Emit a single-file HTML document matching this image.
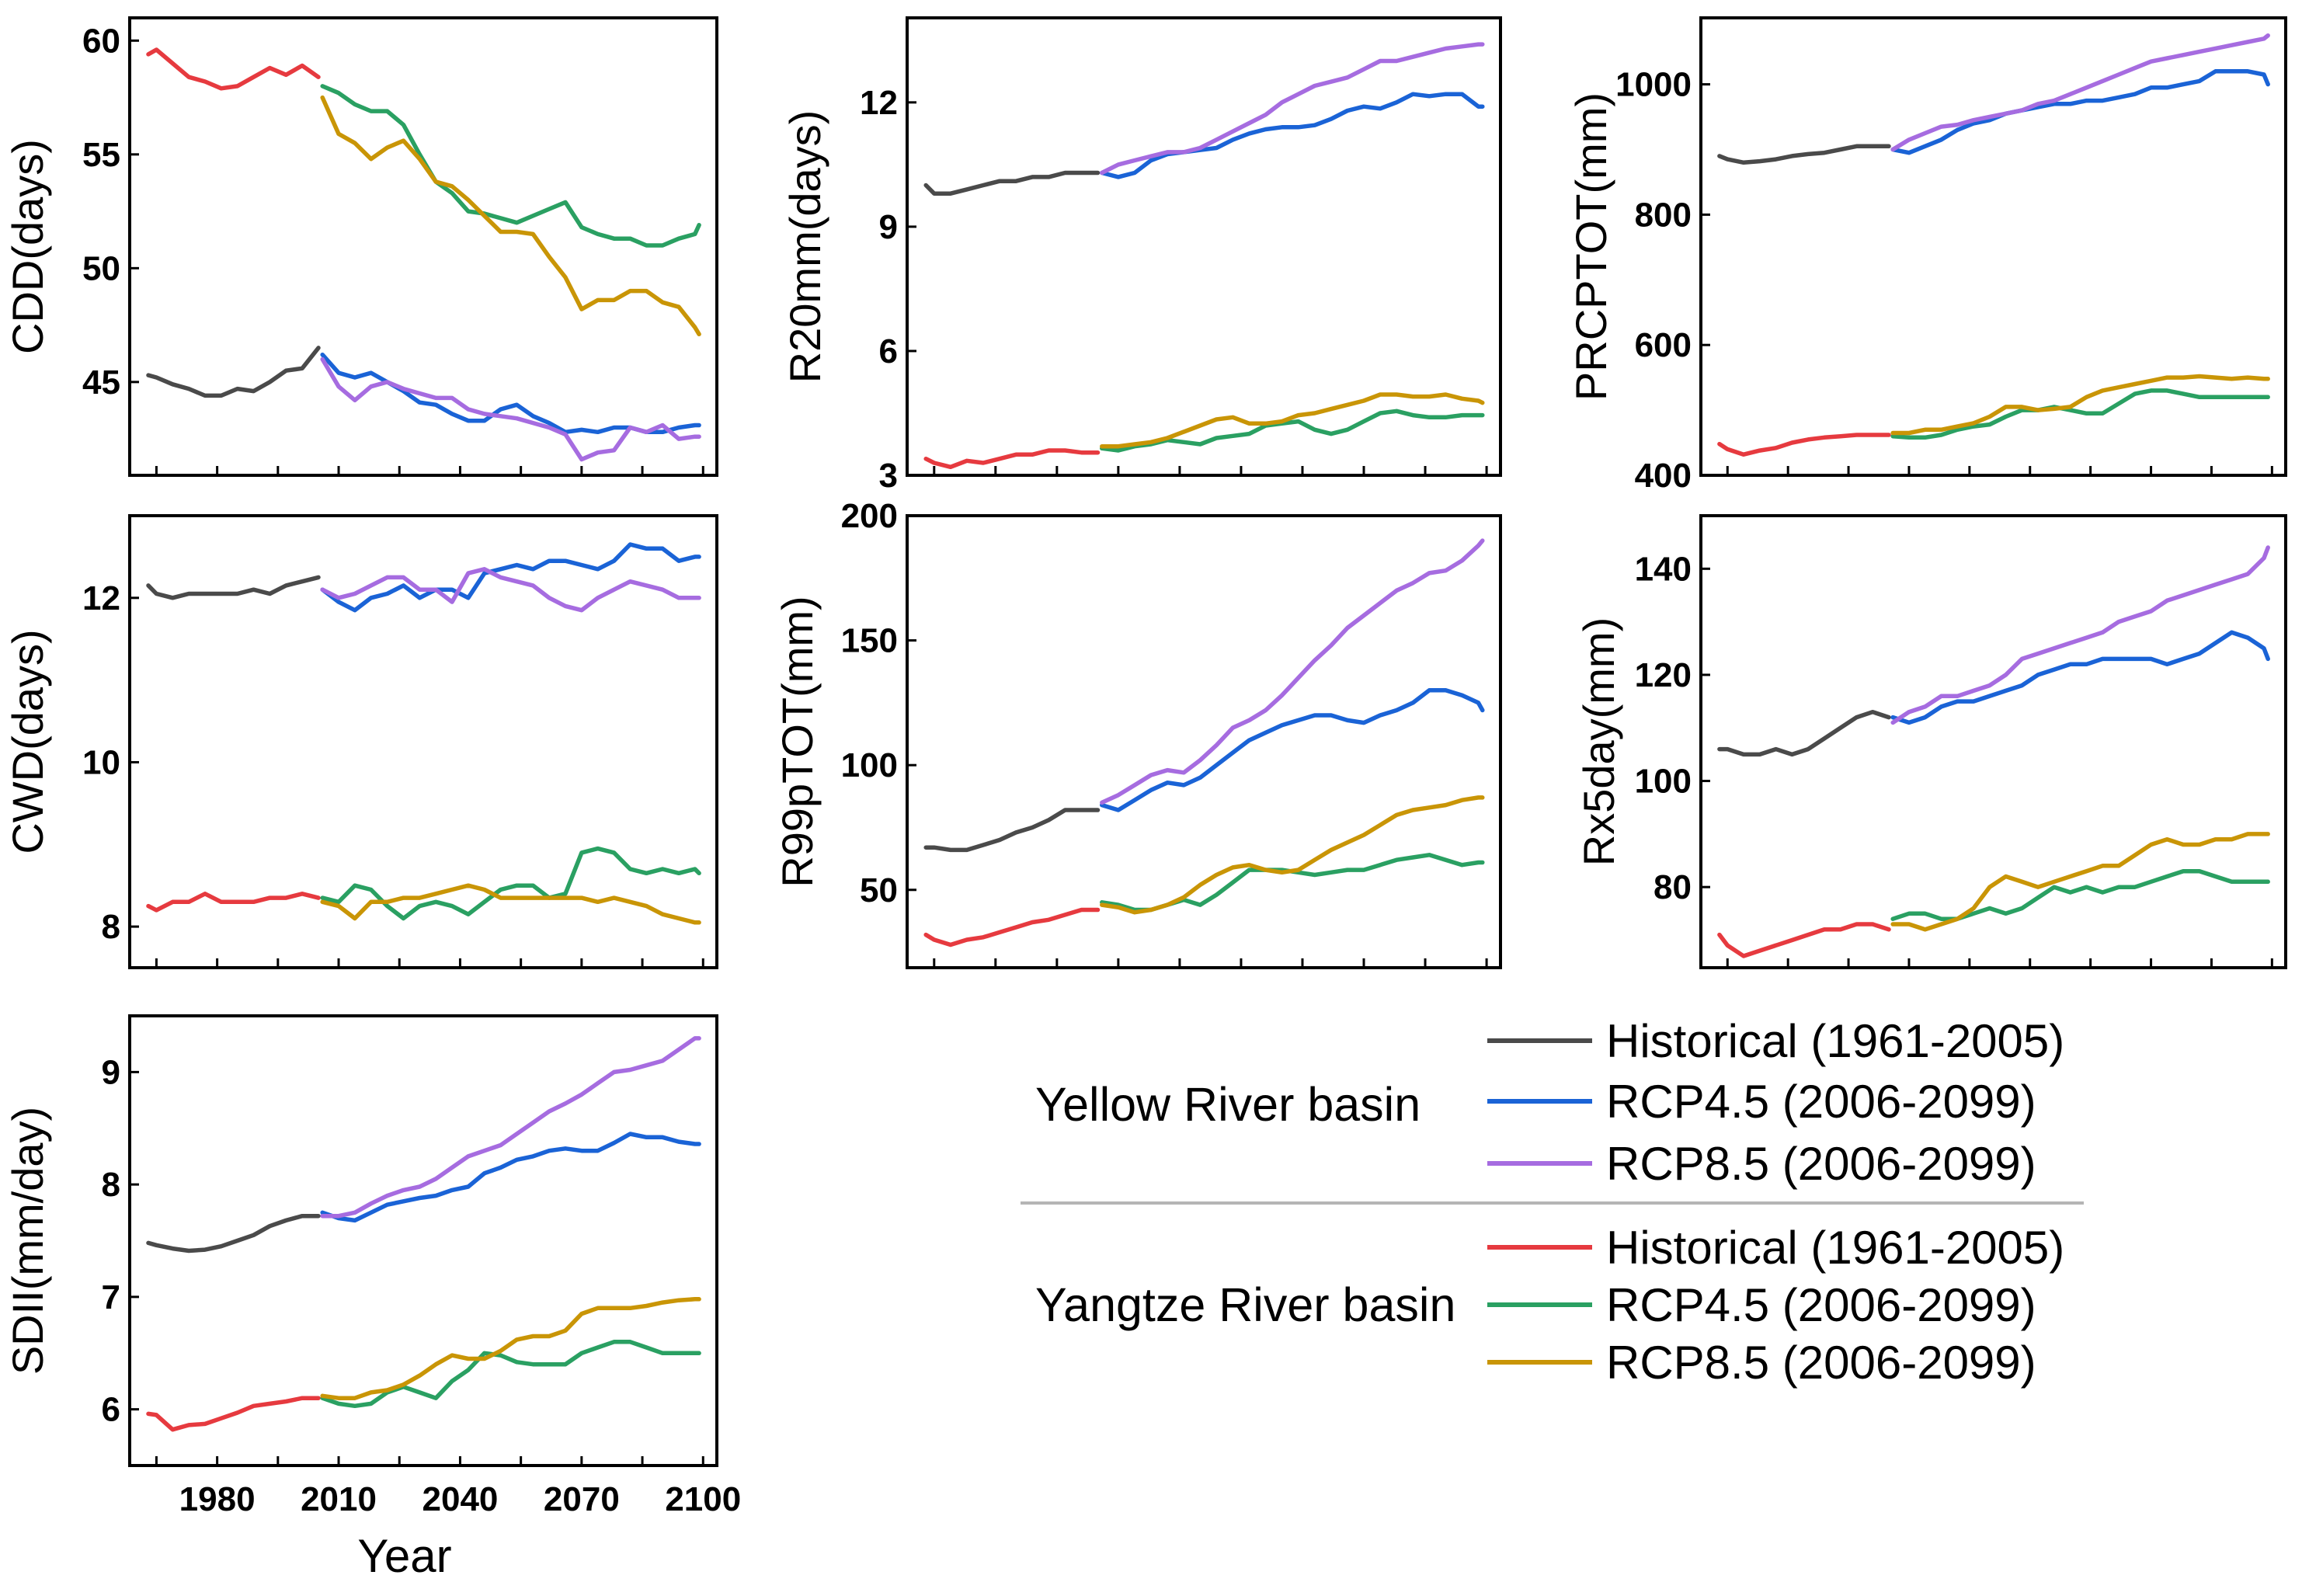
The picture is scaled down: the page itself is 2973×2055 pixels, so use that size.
<!DOCTYPE html>
<html><head><meta charset="utf-8"><style>
html,body{margin:0;padding:0;background:#fff;}
svg{display:block;font-family:"Liberation Sans",Arial,sans-serif;}
</style></head><body>
<svg id="fig" width="2973" height="2055" viewBox="0 0 2973 2055"></svg>
<script>
const histYears=[1963,1965,1969,1973,1977,1981,1985,1989,1993,1997,2001,2005];
const futYears=[2006,2010,2014,2018,2022,2026,2030,2034,2038,2042,2046,2050,2054,2058,2062,2066,2070,2074,2078,2082,2086,2090,2094,2098,2099];
const xTicks=[1965,1980,1995,2010,2025,2040,2055,2070,2085,2100];
const xTickLabels=[1980,2010,2040,2070,2100];

// CDD
const cddYH=[45.3,45.2,44.9,44.7,44.4,44.4,44.7,44.6,45.0,45.5,45.6,46.5];
const cddZH=[59.4,59.6,59.0,58.4,58.2,57.9,58.0,58.4,58.8,58.5,58.9,58.4];
const cddY45=[46.2,45.4,45.2,45.4,45.0,44.6,44.1,44.0,43.6,43.3,43.3,43.8,44.0,43.5,43.2,42.8,42.9,42.8,43.0,43.0,42.8,42.8,43.0,43.1,43.1];
const cddY85=[46.0,44.8,44.2,44.8,45.0,44.7,44.5,44.3,44.3,43.8,43.6,43.5,43.4,43.2,43.0,42.7,41.6,41.9,42.0,43.0,42.8,43.1,42.5,42.6,42.6];
const cddZ45=[58.0,57.7,57.2,56.9,56.9,56.3,55.0,53.8,53.3,52.5,52.4,52.2,52.0,52.3,52.6,52.9,51.8,51.5,51.3,51.3,51.0,51.0,51.3,51.5,51.9];
const cddZ85=[57.5,55.9,55.5,54.8,55.3,55.6,54.8,53.8,53.6,53.0,52.3,51.6,51.6,51.5,50.5,49.6,48.2,48.6,48.6,49.0,49.0,48.5,48.3,47.4,47.1];
const cddTicks=[45,50,55,60];
// CWD
const cwdYH=[12.15,12.05,12.0,12.05,12.05,12.05,12.05,12.1,12.05,12.15,12.2,12.25];
const cwdZH=[8.25,8.2,8.3,8.3,8.4,8.3,8.3,8.3,8.35,8.35,8.4,8.35];
const cwdY45=[12.1,11.95,11.85,12.0,12.05,12.15,12.0,12.1,12.1,12.0,12.3,12.35,12.4,12.35,12.45,12.45,12.4,12.35,12.45,12.65,12.6,12.6,12.45,12.5,12.5];
const cwdY85=[12.1,12.0,12.05,12.15,12.25,12.25,12.1,12.1,11.95,12.3,12.35,12.25,12.2,12.15,12.0,11.9,11.85,12.0,12.1,12.2,12.15,12.1,12.0,12.0,12.0];
const cwdZ45=[8.35,8.3,8.5,8.45,8.25,8.1,8.25,8.3,8.25,8.15,8.3,8.45,8.5,8.5,8.35,8.4,8.9,8.95,8.9,8.7,8.65,8.7,8.65,8.7,8.65];
const cwdZ85=[8.3,8.25,8.1,8.3,8.3,8.35,8.35,8.4,8.45,8.5,8.45,8.35,8.35,8.35,8.35,8.35,8.35,8.3,8.35,8.3,8.25,8.15,8.1,8.05,8.05];
const cwdTicks=[8,10,12];
// SDII
const sdiiYH=[7.48,7.46,7.43,7.41,7.42,7.45,7.5,7.55,7.63,7.68,7.72,7.72];
const sdiiZH=[5.96,5.95,5.82,5.86,5.87,5.92,5.97,6.03,6.05,6.07,6.1,6.1];
const sdiiY45=[7.75,7.7,7.68,7.75,7.82,7.85,7.88,7.9,7.95,7.98,8.1,8.15,8.22,8.25,8.3,8.32,8.3,8.3,8.37,8.45,8.42,8.42,8.38,8.36,8.36];
const sdiiY85=[7.72,7.72,7.75,7.83,7.9,7.95,7.98,8.05,8.15,8.25,8.3,8.35,8.45,8.55,8.65,8.72,8.8,8.9,9.0,9.02,9.06,9.1,9.2,9.3,9.3];
const sdiiZ45=[6.1,6.05,6.03,6.05,6.15,6.2,6.15,6.1,6.25,6.35,6.5,6.48,6.42,6.4,6.4,6.4,6.5,6.55,6.6,6.6,6.55,6.5,6.5,6.5,6.5];
const sdiiZ85=[6.12,6.1,6.1,6.15,6.17,6.22,6.3,6.4,6.48,6.45,6.45,6.52,6.62,6.65,6.65,6.7,6.85,6.9,6.9,6.9,6.92,6.95,6.97,6.98,6.98];
const sdiiTicks=[6,7,8,9];
// R20mm
const r20YH=[10.0,9.8,9.8,9.9,10.0,10.1,10.1,10.2,10.2,10.3,10.3,10.3];
const r20ZH=[3.4,3.3,3.2,3.35,3.3,3.4,3.5,3.5,3.6,3.6,3.55,3.55];
const r20Y45=[10.3,10.2,10.3,10.6,10.75,10.8,10.85,10.9,11.1,11.25,11.35,11.4,11.4,11.45,11.6,11.8,11.9,11.85,12.0,12.2,12.15,12.2,12.2,11.9,11.9];
const r20Y85=[10.3,10.5,10.6,10.7,10.8,10.8,10.9,11.1,11.3,11.5,11.7,12.0,12.2,12.4,12.5,12.6,12.8,13.0,13.0,13.1,13.2,13.3,13.35,13.4,13.4];
const r20Z45=[3.65,3.6,3.7,3.75,3.85,3.8,3.75,3.9,3.95,4.0,4.2,4.25,4.3,4.1,4.0,4.1,4.3,4.5,4.55,4.45,4.4,4.4,4.45,4.45,4.45];
const r20Z85=[3.7,3.7,3.75,3.8,3.9,4.05,4.2,4.35,4.4,4.25,4.25,4.3,4.45,4.5,4.6,4.7,4.8,4.95,4.95,4.9,4.9,4.95,4.85,4.8,4.75];
const r20Ticks=[3,6,9,12];
// PRCPTOT
const prYH=[890,885,880,882,885,890,893,895,900,905,905,905];
const prZH=[448,440,432,438,442,450,455,458,460,462,462,462];
const prY45=[900,895,905,915,930,940,945,955,960,965,970,970,975,975,980,985,995,995,1000,1005,1020,1020,1020,1015,1000];
const prY85=[900,915,925,935,938,945,950,955,960,970,975,985,995,1005,1015,1025,1035,1040,1045,1050,1055,1060,1065,1070,1075];
const prZ45=[460,458,458,462,470,475,478,490,500,500,505,500,495,495,510,525,530,530,525,520,520,520,520,520,520];
const prZ85=[465,465,470,470,475,480,490,505,505,500,502,505,520,530,535,540,545,550,550,552,550,548,550,548,548];
const prTicks=[400,600,800,1000];
// R99pTOT
const r99YH=[67,67,66,66,68,70,73,75,78,82,82,82];
const r99ZH=[32,30,28,30,31,33,35,37,38,40,42,42];
const r99Y45=[84,82,86,90,93,92,95,100,105,110,113,116,118,120,120,118,117,120,122,125,130,130,128,125,122];
const r99Y85=[85,88,92,96,98,97,102,108,115,118,122,128,135,142,148,155,160,165,170,173,177,178,182,188,190];
const r99Z45=[45,44,42,42,44,46,44,48,53,58,58,58,57,56,57,58,58,60,62,63,64,62,60,61,61];
const r99Z85=[44,43,41,42,44,47,52,56,59,60,58,57,58,62,66,69,72,76,80,82,83,84,86,87,87];
const r99Ticks=[50,100,150,200];
// Rx5day
const rx5YH=[106,106,105,105,106,105,106,108,110,112,113,112];
const rx5ZH=[71,69,67,68,69,70,71,72,72,73,73,72];
const rx5Y45=[112,111,112,114,115,115,116,117,118,120,121,122,122,123,123,123,123,122,123,124,126,128,127,125,123];
const rx5Y85=[111,113,114,116,116,117,118,120,123,124,125,126,127,128,130,131,132,134,135,136,137,138,139,142,144];
const rx5Z45=[74,75,75,74,74,75,76,75,76,78,80,79,80,79,80,80,81,82,83,83,82,81,81,81,81];
const rx5Z85=[73,73,72,73,74,76,80,82,81,80,81,82,83,84,84,86,88,89,88,88,89,89,90,90,90];
const rx5Ticks=[80,100,120,140];

const NS="http://www.w3.org/2000/svg";
const svg=document.getElementById('fig');
const C={yh:'#4a4a4a',y45:'#1a63d6',y85:'#a66ce0',zh:'#e63a3f',z45:'#2aa062',z85:'#c99506'};
function mk(tag,attrs,parent){const e=document.createElementNS(NS,tag);for(const k in attrs)e.setAttribute(k,attrs[k]);(parent||svg).appendChild(e);return e;}

const X0=1958.4,X1=2103.4;
function panel(key,box,ymin,ymax,ticks,title,series,showX){
  const g=mk('g',{});
  
  
  const [L,T,R,B]=box;
  const xs=y=>L+(y-X0)/(X1-X0)*(R-L);
  const ys=v=>B-(v-ymin)/(ymax-ymin)*(B-T);
  series.forEach(s=>{
    const yrs=s.hist?histYears:futYears;
    const pts=s.v.map((v,i)=>xs(yrs[i]).toFixed(1)+','+ys(v).toFixed(1)).join(' ');
    const p=mk('polyline',{points:pts,fill:'none',stroke:s.c,'stroke-width':5.5,'stroke-linejoin':'round','stroke-linecap':'round'},g);
    
    
  });
  const fr=mk('rect',{x:L,y:T,width:R-L,height:B-T,fill:'none',stroke:'#000','stroke-width':4},g);
  
  
  xTicks.forEach(t=>{mk('line',{x1:xs(t),x2:xs(t),y1:B,y2:B-12,stroke:'#000','stroke-width':3},g);});
  if(showX){xTickLabels.forEach(t=>{
    const tx=mk('text',{x:xs(t),y:B+58,'text-anchor':'middle','font-size':44,'font-weight':'bold'},g);
    tx.textContent=t;
    
    
  });}
  ticks.forEach(t=>{
    mk('line',{x1:L,x2:L+12,y1:ys(t),y2:ys(t),stroke:'#000','stroke-width':3},g);
    const tx=mk('text',{x:L-12,y:ys(t)+15,'text-anchor':'end','font-size':44,'font-weight':'bold'},g);
    tx.textContent=t;
    
    
  });
  const cy=(T+B)/2, lx=L-(key==='prcptot'||key==='r99ptot'?122:112);
  const yt=mk('text',{x:lx,y:cy,'text-anchor':'middle','font-size':56,transform:`rotate(-90 ${lx} ${cy})`},g);
  yt.textContent=title;
  
  
}
function S(yh,zh,y45,y85,z45,z85){return [
 {n:'yellow-historical',hist:1,v:yh,c:C.yh},{n:'yangtze-historical',hist:1,v:zh,c:C.zh},
 {n:'yellow-rcp45',v:y45,c:C.y45},{n:'yellow-rcp85',v:y85,c:C.y85},
 {n:'yangtze-rcp45',v:z45,c:C.z45},{n:'yangtze-rcp85',v:z85,c:C.z85}];}

const c1=[167,923],c2=[1168,1932],c3=[2190,2943];
const r1=[23,612],r2=[664,1246],r3=[1308,1887];
panel('cdd',[c1[0],r1[0],c1[1],r1[1]],40.9,61.0,cddTicks,'CDD(days)',S(cddYH,cddZH,cddY45,cddY85,cddZ45,cddZ85),false);
panel('cwd',[c1[0],r2[0],c1[1],r2[1]],7.5,13.0,cwdTicks,'CWD(days)',S(cwdYH,cwdZH,cwdY45,cwdY85,cwdZ45,cwdZ85),false);
panel('sdii',[c1[0],r3[0],c1[1],r3[1]],5.5,9.5,sdiiTicks,'SDII(mm/day)',S(sdiiYH,sdiiZH,sdiiY45,sdiiY85,sdiiZ45,sdiiZ85),true);
panel('r20mm',[c2[0],r1[0],c2[1],r1[1]],3,14.04,r20Ticks,'R20mm(days)',S(r20YH,r20ZH,r20Y45,r20Y85,r20Z45,r20Z85),false);
panel('prcptot',[c3[0],r1[0],c3[1],r1[1]],400,1102,prTicks,'PRCPTOT(mm)',S(prYH,prZH,prY45,prY85,prZ45,prZ85),false);
panel('r99ptot',[c2[0],r2[0],c2[1],r2[1]],18.8,200,r99Ticks,'R99pTOT(mm)',S(r99YH,r99ZH,r99Y45,r99Y85,r99Z45,r99Z85),false);
panel('rx5day',[c3[0],r2[0],c3[1],r2[1]],64.8,150,rx5Ticks,'Rx5day(mm)',S(rx5YH,rx5ZH,rx5Y45,rx5Y85,rx5Z45,rx5Z85),false);

const yl=mk('text',{x:521,y:2024,'text-anchor':'middle','font-size':60});
yl.textContent='Year';



const leg=mk('g',{});


const legLabels=['Historical (1961-2005)','RCP4.5 (2006-2099)','RCP8.5 (2006-2099)'];
const legRowsY=[[1340,1418,1498],[1606,1680,1754]];
const legCols=[[C.yh,C.y45,C.y85],[C.zh,C.z45,C.z85]];
const groupNames=['Yellow River basin','Yangtze River basin'];
const groupY=[1422,1680];
for(let gI=0;gI<2;gI++){
  const gt=mk('text',{x:1333,y:groupY[gI]+21,'font-size':61},leg);
  gt.textContent=groupNames[gI];
  
  
  for(let i=0;i<3;i++){
    const y=legRowsY[gI][i];
    const ln=mk('line',{x1:1915,x2:2050,y1:y,y2:y,stroke:legCols[gI][i],'stroke-width':6},leg);
    
    
    const t=mk('text',{x:2068,y:y+21,'font-size':60},leg);
    t.textContent=legLabels[i];
    
    
  }
}
const sep=mk('line',{x1:1314,x2:2683,y1:1549,y2:1549,stroke:'#b5b5b5','stroke-width':4},leg);


</script>
</body></html>
